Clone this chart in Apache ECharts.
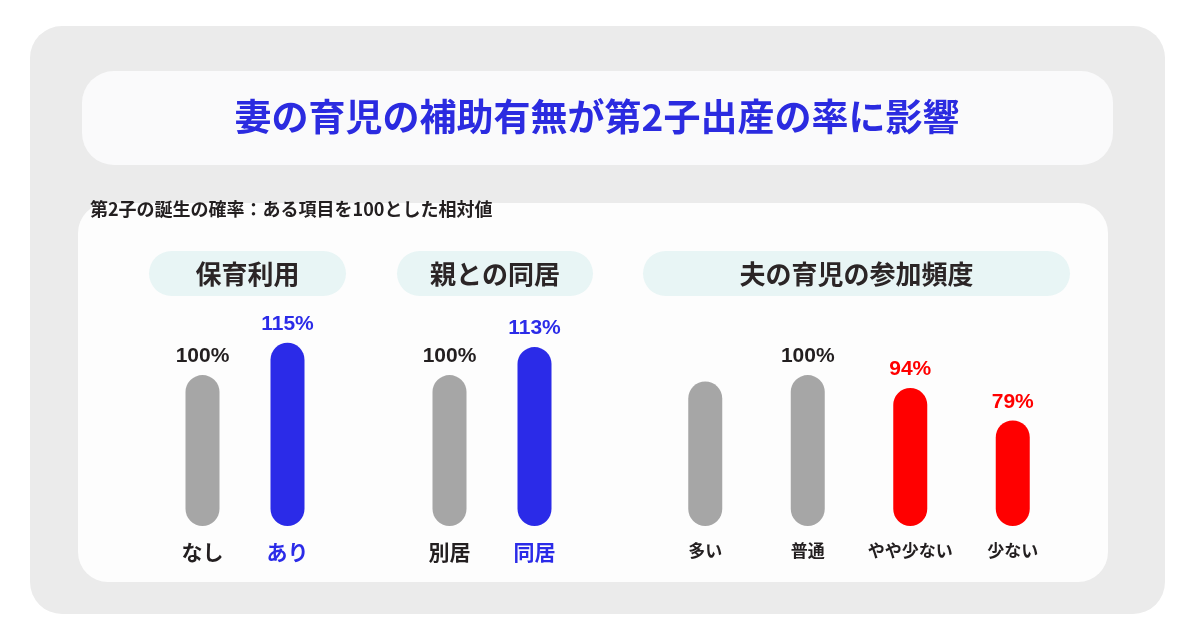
<!DOCTYPE html>
<html>
<head>
<meta charset="utf-8">
<script src="https://cdn.jsdelivr.net/npm/echarts@6/dist/echarts.min.js"></script>
<style>
    html, body { margin: 0; padding: 0; background: #fff; }
    #chart { width: 1200px; height: 643px; }
</style>
</head>
<body>
<div id="chart"></div>
<script>
// data
const title = '妻の育児の補助有無が第2子出産の率に影響';
const subtitle = '第2子の誕生の確率：ある項目を100とした相対値';
const groupTitles = ['保育利用', '親との同居', '夫の育児の参加頻度'];

const childcareCats = ['なし', 'あり'];
const childcareVals = [100, 115];

const cohabitCats = ['別居', '同居'];
const cohabitVals = [100, 113];

const husbandCats = ['多い', '普通', 'やや少ない', '少ない'];
const husbandVals = [97, 100, 94, 79];
const husbandShowLabel = [false, true, true, true];

// styles
const GRAY = '#a6a6a6';
const BLUE = '#2b2be8';
const RED = '#ff0000';
const DARK = '#231f20';
const CJK = '"Noto Sans CJK JP", sans-serif';
const NUM = '"Liberation Sans", Arial, sans-serif';

const groups = [
    {cats: childcareCats, vals: childcareVals, show: [true, true],
        bar: [GRAY, BLUE], text: [DARK, BLUE], catColor: [DARK, BLUE], catSize: 21, left: 160, width: 170},
    {cats: cohabitCats, vals: cohabitVals, show: [true, true],
        bar: [GRAY, BLUE], text: [DARK, BLUE], catColor: [DARK, BLUE], catSize: 21, left: 407, width: 170},
    {cats: husbandCats, vals: husbandVals, show: husbandShowLabel,
        bar: [GRAY, GRAY, RED, RED], text: [DARK, DARK, RED, RED], catColor: [DARK, DARK, DARK, DARK],
        catSize: 17, left: 654, width: 410}
];

const pills = [
    {x: 149, w: 197},
    {x: 397, w: 196},
    {x: 643, w: 427}
];

const graphic = [
    {type: 'rect', shape: {x: 30, y: 26, width: 1135, height: 588, r: 32}, style: {fill: '#ebebeb'}, z: -10},
    {type: 'rect', shape: {x: 82, y: 71, width: 1031, height: 94, r: 32}, style: {fill: '#fafafb'}, z: -9},
    {type: 'rect', shape: {x: 78, y: 203, width: 1030, height: 379, r: 30}, style: {fill: '#fdfdfd'}, z: -9},
    {type: 'text', x: 597, y: 117, style: {text: title, fill: '#2b2be0', font: 'bold 37px ' + CJK,
        textAlign: 'center', textVerticalAlign: 'middle'}, z: 5},
    {type: 'text', x: 90, y: 209, style: {text: subtitle, fill: DARK, font: 'bold 18px ' + CJK,
        textAlign: 'left', textVerticalAlign: 'middle'}, z: 5}
];
pills.forEach((p, i) => {
    graphic.push({type: 'rect', shape: {x: p.x, y: 251, width: p.w, height: 45, r: 22.5},
        style: {fill: '#e8f5f5'}, z: -8});
    graphic.push({type: 'text', x: p.x + p.w / 2, y: 274, style: {text: groupTitles[i], fill: '#2b2526',
        font: 'bold 26px ' + CJK, textAlign: 'center', textVerticalAlign: 'middle'}, z: 5});
});

const option = {
    animation: false,
    graphic: graphic,
    grid: groups.map(g => ({left: g.left, width: g.width, top: 332, height: 194})),
    xAxis: groups.map((g, i) => ({
        type: 'category',
        gridIndex: i,
        data: g.cats,
        axisLine: {show: false},
        axisTick: {show: false},
        axisLabel: {
            interval: 0,
            margin: 16,
            fontFamily: CJK,
            fontWeight: 'bold',
            fontSize: g.catSize,
            color: (v, idx) => g.catColor[idx]
        }
    })),
    yAxis: groups.map((g, i) => ({
        type: 'value',
        gridIndex: i,
        min: 30,
        max: 120,
        show: false,
        splitLine: {show: false}
    })),
    series: groups.map((g, i) => ({
        type: 'bar',
        xAxisIndex: i,
        yAxisIndex: i,
        barWidth: 34,
        data: g.vals.map((v, k) => ({
            value: v,
            itemStyle: {color: g.bar[k], borderRadius: 17},
            label: {
                show: g.show[k],
                position: 'top',
                distance: 8,
                formatter: '{c}%',
                color: g.text[k],
                fontFamily: NUM,
                fontWeight: 'bold',
                fontSize: 21
            }
        }))
    }))
};

const chart = echarts.init(document.getElementById('chart'));
chart.setOption(option);
</script>
</body>
</html>
